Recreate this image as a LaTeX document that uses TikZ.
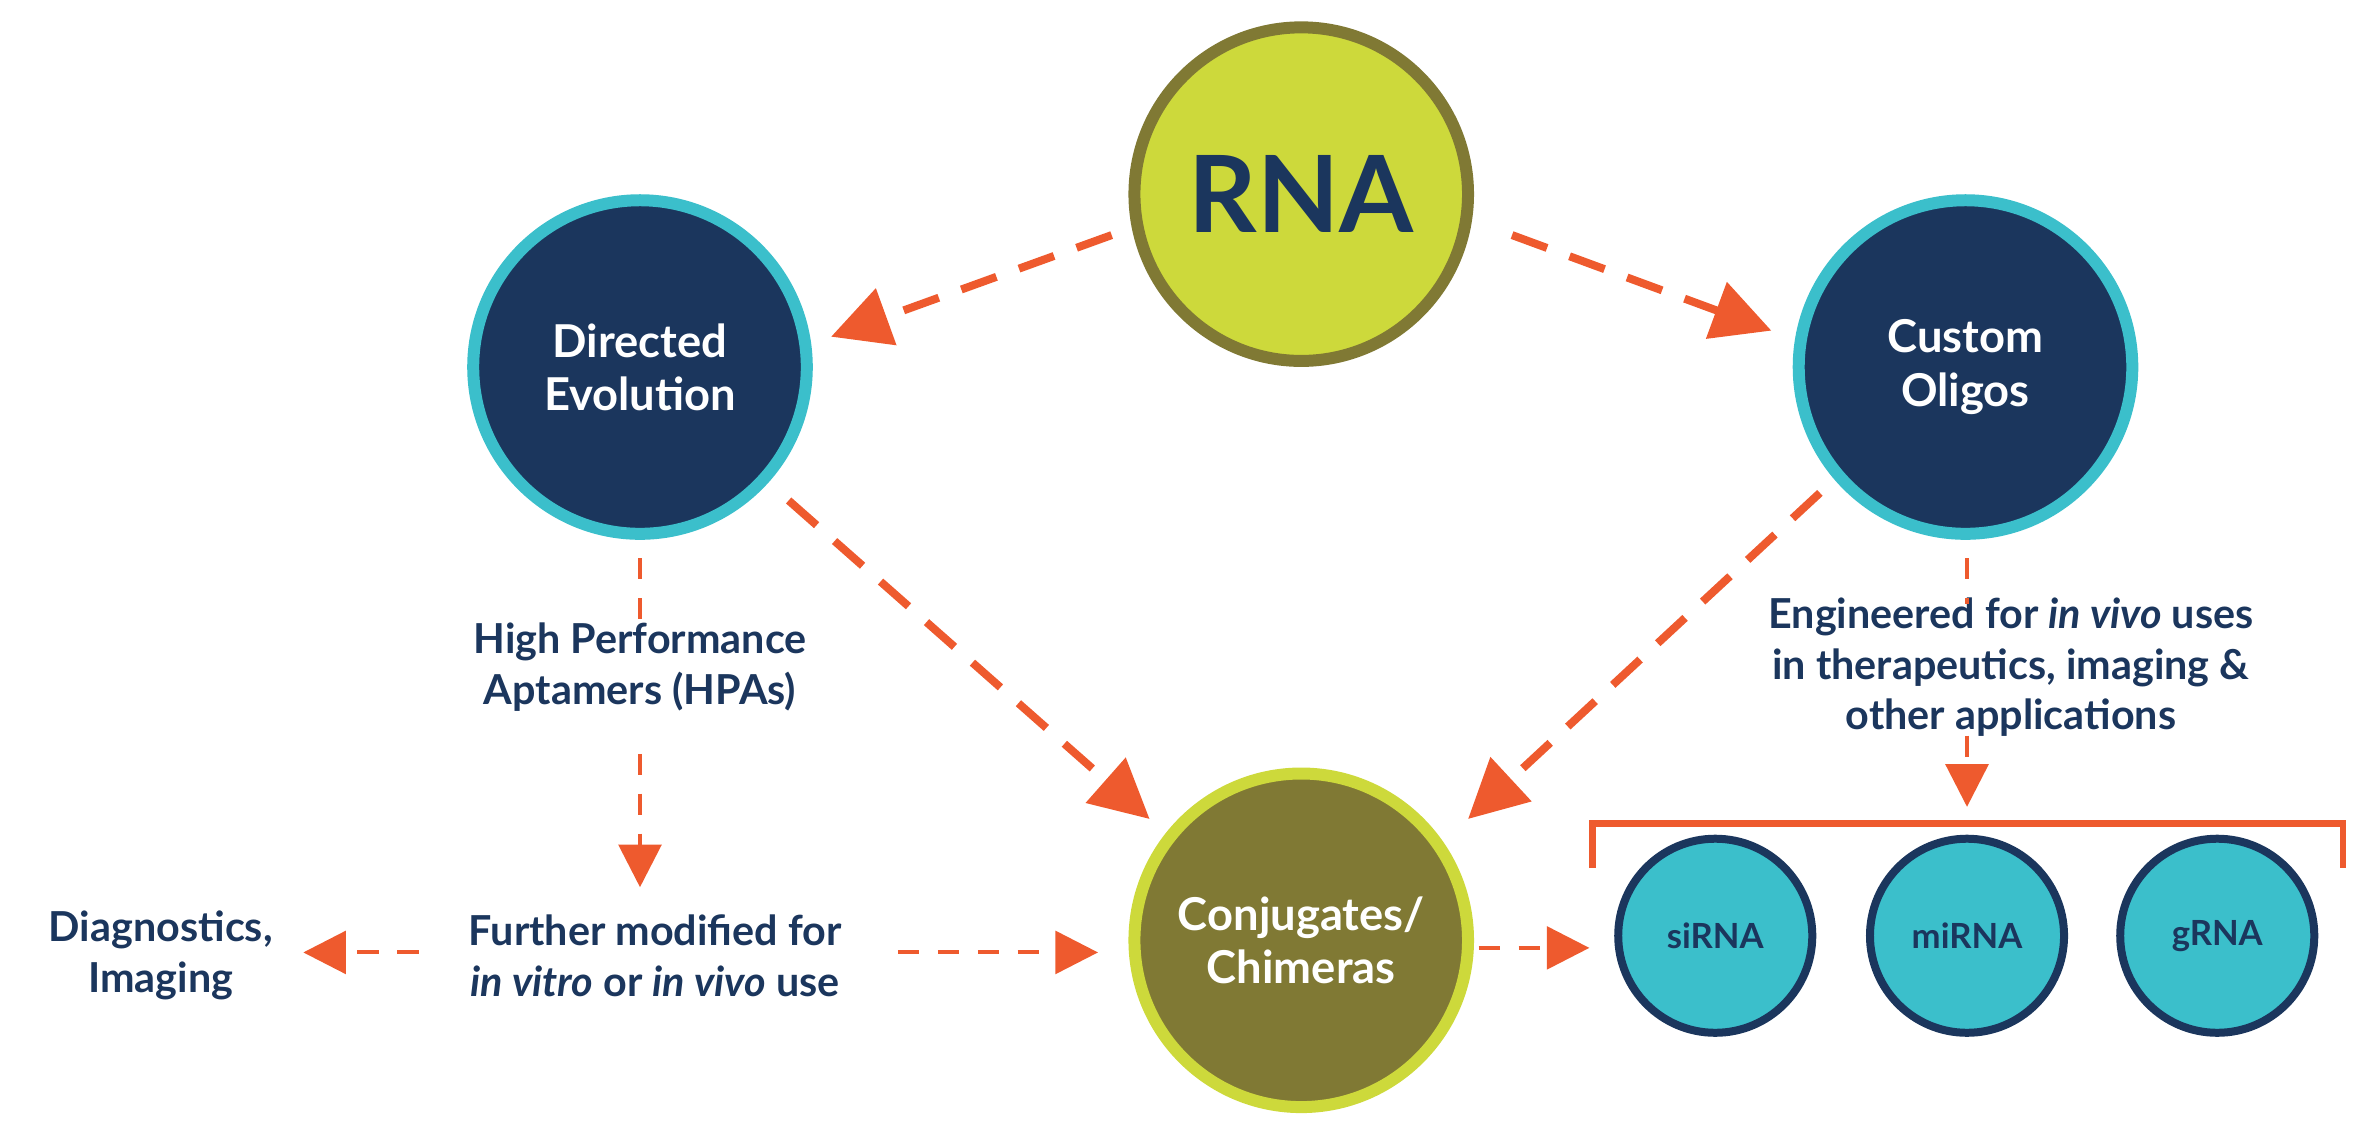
\documentclass[tikz,border=0pt]{standalone}
\usepackage{fontspec}
\setmainfont{Lato}
\usetikzlibrary{arrows.meta}
\definecolor{navy}{HTML}{1B365D}
\definecolor{teal}{HTML}{3BBFCB}
\definecolor{lime}{HTML}{CDD93B}
\definecolor{olive}{HTML}{807934}
\definecolor{orng}{HTML}{EE5A2E}
\begin{document}
\begin{tikzpicture}[x=0.02cm,y=-0.02cm,
 big/.style={circle,minimum size=4.4cm,line width=4.5pt,inner sep=0pt,align=center,font=\fontsize{17}{20}\selectfont\bfseries},
 small/.style={circle,minimum size=2.56cm,line width=3pt,draw=navy,fill=teal,text=navy,font=\fontsize{13}{15}\selectfont\bfseries},
 lab/.style={align=center,text=navy,font=\fontsize{15.5}{19}\selectfont\bfseries},
 thick arr/.style={orng,line width=3pt,dash pattern=on 14pt off 9pt,-{Triangle[length=22pt,width=22pt]}},
 thin arr/.style={orng,line width=1.5pt,dash pattern=on 8pt off 7pt,-{Triangle[length=16pt,width=16pt]}},
 thin line/.style={orng,line width=1.5pt,dash pattern=on 8pt off 7pt}]
\useasboundingbox (0,0) rectangle (1568,752);
\node[big,fill=lime,draw=olive,text=navy,font=\fontsize{40}{44}\selectfont\bfseries] (rna) at (858,128) {RNA};
\node[big,fill=navy,draw=teal,text=white] (de) at (422,242) {Directed\\Evolution};
\node[big,fill=navy,draw=teal,text=white] (co) at (1296,242) {Custom\\Oligos};
\node[big,fill=olive,draw=lime,text=white] (cj) at (858,620) {Conjugates/\\Chimeras};
\node[small] (si) at (1131,617) {siRNA};
\node[small] (mi) at (1297,617) {miRNA};
\node[small] (g) at (1462,617) {gRNA};
\node[lab] (hpa) at (422,440) {High Performance\\Aptamers (HPAs)};
\node[lab] (fm) at (432,630) {Further modified for\\\textit{in vitro} or \textit{in vivo} use};
\node[lab] (dx) at (106,630) {Diagnostics,\\Imaging};
\node[lab] (eng) at (1326,440) {Engineered for \textit{in vivo} uses\\in therapeutics, imaging \&\\other applications};
\draw[orng,line width=2.5pt] (1050,572) |- (1545,543) -- (1545,572);
\coordinate (a1) at (733,155); \coordinate (a2) at (548,222);
\coordinate (b1) at (997,155); \coordinate (b2) at (1168,218);
\coordinate (c1) at (520,330); \coordinate (c2) at (758,540);
\coordinate (d1) at (1200,325); \coordinate (d2) at (968,540);
\draw[thick arr] (a1) -- (a2);
\draw[thick arr] (b1) -- (b2);
\draw[thick arr] (c1) -- (c2);
\draw[thick arr] (d1) -- (d2);
\coordinate (e1) at (422,368); \coordinate (e2) at (422,410);
\coordinate (e3) at (422,497); \coordinate (e4) at (422,585);
\draw[thin line] (e1) -- (e2);
\draw[thin arr] (e3) -- (e4);
\coordinate (f1) at (592,628); \coordinate (f2) at (724,628);
\draw[thin arr] (f1) -- (f2);
\coordinate (g1) at (276,628); \coordinate (g2) at (200,628);
\draw[thin arr] (g1) -- (g2);
\coordinate (h1) at (975,625); \coordinate (h2) at (1048,625);
\draw[thin arr] (h1) -- (h2);
\coordinate (i1) at (1297,368); \coordinate (i2) at (1297,398);
\coordinate (i3) at (1297,485); \coordinate (i4) at (1297,532);
\draw[thin line] (i1) -- (i2);
\draw[thin arr] (i3) -- (i4);
\end{tikzpicture}
\end{document}
